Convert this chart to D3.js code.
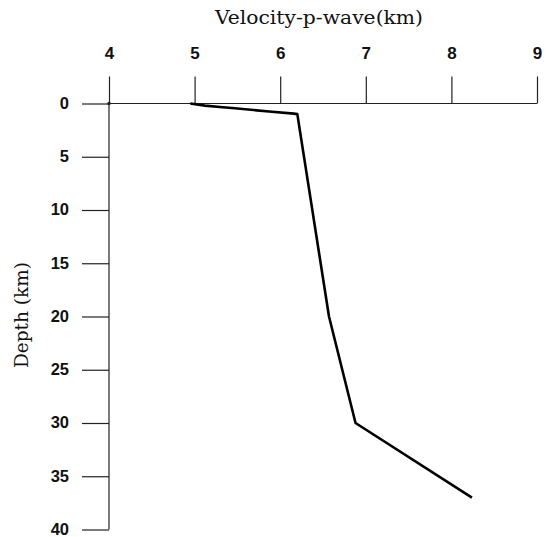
<!DOCTYPE html>
<html>
<head>
<meta charset="utf-8">
<script src="https://cdn.jsdelivr.net/npm/d3@7"></script>
<style>
  html, body { margin: 0; padding: 0; background: #fff; }
  svg { display: block; }
</style>
</head>
<body>
<svg id="chart" width="548" height="537"></svg>
<script>
// P-wave velocity profile: velocity (km/s) against depth (km)
const velocity = [4.95, 5.12, 5.33, 5.47, 5.87, 6.16, 6.2, 6.57, 6.88, 8.24];
const depth    = [0.0,  0.2,  0.35, 0.45, 0.75, 0.95, 1.0, 20.0, 30.0, 37.0];
const xTicks = [4, 5, 6, 7, 8, 9];
const yTicks = [0, 5, 10, 15, 20, 25, 30, 35, 40];
const xTitle = "Velocity-p-wave(km)";
const yTitle = "Depth (km)";

const svg = d3.select("#chart");
const x = d3.scaleLinear().domain([4, 9]).range([109, 537]);
const y = d3.scaleLinear().domain([0, 40]).range([103.5, 529.5]);

const ink = "#222";

// top axis: ticks pointing up, labels above
const xAxis = d3.axisTop(x).tickValues(xTicks).tickSize(27).tickPadding(18)
  .tickFormat(d3.format("d"));
const gx = svg.append("g").attr("transform", `translate(0,${y(0)})`).call(xAxis);
gx.select(".domain").remove();
gx.selectAll(".tick line").attr("stroke", ink).attr("stroke-width", 1.2);
gx.selectAll(".tick text")
  .attr("font-family", "Liberation Sans, Arial, sans-serif")
  .attr("font-weight", "bold").attr("font-size", 17).attr("fill", "#111");

// left axis: ticks pointing left, labels right-aligned
const yAxis = d3.axisLeft(y).tickValues(yTicks).tickSize(27).tickPadding(13)
  .tickFormat(d3.format("d"));
const gy = svg.append("g").attr("transform", `translate(${x(4)},0)`).call(yAxis);
gy.select(".domain").remove();
gy.selectAll(".tick line").attr("stroke", ink).attr("stroke-width", 1.2);
gy.selectAll(".tick text")
  .attr("font-family", "Liberation Sans, Arial, sans-serif")
  .attr("font-weight", "bold").attr("font-size", 16.5).attr("fill", "#111")
  .attr("dy", "0.3em");

// axis lines
svg.append("line")
  .attr("x1", x(4)).attr("x2", x(9)).attr("y1", y(0)).attr("y2", y(0))
  .attr("stroke", ink).attr("stroke-width", 1.2);
svg.append("line")
  .attr("x1", x(4)).attr("x2", x(4)).attr("y1", y(0)).attr("y2", y(40))
  .attr("stroke", ink).attr("stroke-width", 1.2);
svg.append("circle").attr("cx", x(4)).attr("cy", y(0)).attr("r", 1.8).attr("fill", ink);

// titles
svg.append("text")
  .attr("x", 319).attr("y", 24).attr("text-anchor", "middle")
  .attr("font-family", "DejaVu Serif, serif").attr("font-size", 18)
  .attr("textLength", 208).attr("lengthAdjust", "spacingAndGlyphs")
  .attr("fill", "#111").text(xTitle);
svg.append("text")
  .attr("transform", "translate(28,315) rotate(-90)")
  .attr("text-anchor", "middle")
  .attr("font-family", "DejaVu Serif, serif").attr("font-size", 18)
  .attr("textLength", 106).attr("lengthAdjust", "spacingAndGlyphs")
  .attr("fill", "#111").text(yTitle);

// velocity profile
const pts = velocity.map((v, i) => [v, depth[i]]);
svg.append("path")
  .datum(pts)
  .attr("fill", "none").attr("stroke", "#000").attr("stroke-width", 2.6)
  .attr("stroke-linejoin", "round")
  .attr("d", d3.line().x(d => x(d[0])).y(d => y(d[1])));
</script>
</body>
</html>
